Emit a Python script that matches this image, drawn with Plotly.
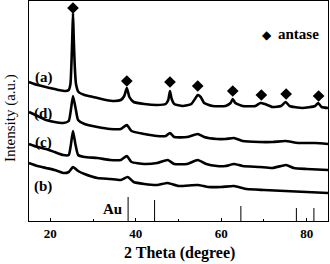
import plotly.graph_objects as go

# 2-theta (degree) and intensity (a.u.) for each sample
theta_a = [15, 17, 20, 22, 23.5, 24.3, 24.7, 24.95, 25.15, 25.3, 25.45, 25.7, 26.0, 26.6, 28, 30, 33, 35, 36.5,
           37.3, 37.9, 38.5, 39.5, 42, 45, 47, 47.6, 48.0, 48.4, 49, 51, 53, 54, 54.5, 55.2, 56, 58, 61, 62.2,
           62.7, 63.3, 65, 68, 69.2, 70.2, 72, 74, 75.1, 76, 79, 82, 82.7, 83.5, 85]
inten_a = [139, 136, 133, 131, 130, 131, 137, 159, 186, 208, 186, 156, 137, 129, 126, 124, 121, 120, 121,
           125, 133, 124, 119, 117, 116, 117, 121, 130, 122, 117, 115, 117, 123, 126, 124, 118, 115, 115, 118,
           122, 118, 115, 115, 118, 117, 114, 115, 119, 115, 113, 115, 118, 114, 113]

theta_d = [15, 17, 19, 21, 23, 24.3, 24.8, 25.3, 25.9, 26.5, 28, 31, 34, 36.5, 37.9, 39, 42, 45, 47, 48, 49,
           52, 54.5, 56, 59, 61, 63, 65, 69, 72, 75, 78, 82, 85]
inten_d = [109, 105, 101, 99, 98, 100, 111, 125, 113, 101, 97, 94, 92, 92, 96, 90, 87, 85, 85, 88, 84,
           84, 87, 84, 82, 82, 83, 80, 79, 79, 80, 78, 78, 77]

theta_c = [15, 17, 19, 21, 23, 24.3, 24.8, 25.3, 25.9, 26.5, 28, 31, 34, 36.5, 37.9, 39, 42, 45, 47.5, 49,
           52, 54.5, 56.5, 59, 61, 63, 65, 69, 72, 75.2, 77, 80, 85]
inten_c = [77, 74, 72, 69, 66, 66, 76, 90, 76, 66, 64, 63, 61, 61, 65, 59, 57, 58, 61, 57,
           57, 61, 57, 55, 55, 57, 55, 54, 53, 56, 53, 52, 51]

theta_b = [15, 17, 19, 21, 23, 24.3, 25.3, 26.5, 28, 31, 34, 36.5, 38.1, 39.5, 42, 45, 47.5, 50, 54.5, 57,
           60, 63, 66, 70, 75, 80, 85]
inten_b = [58, 55, 53, 51, 48, 49, 54, 50, 47, 43, 42, 41, 44, 39, 37, 36, 38, 35, 36, 34,
           34, 35, 32, 31, 30, 29, 28]

# anatase peak markers
anatase_theta = [25.3, 37.9, 48.0, 54.5, 62.7, 69.4, 75.2, 82.8]
anatase_mark = [213, 140, 139, 135, 130, 126, 127, 125]

# Au reference lines
au_theta = [38.2, 44.4, 64.6, 77.6, 81.7]
au_height = [24, 21, 15, 13, 13]

curve_labels = ["(a)", "(d)", "(c)", "(b)"]
label_theta = [18.5, 18.2, 18.5, 18.3]
label_inten = [144, 108, 79, 35]

FONT = "Liberation Serif"

fig = go.Figure()
for th, it in [(theta_a, inten_a), (theta_d, inten_d), (theta_c, inten_c), (theta_b, inten_b)]:
    fig.add_trace(go.Scatter(x=th, y=it, mode="lines",
                             line=dict(color="black", width=2.6, shape="spline", smoothing=0.5),
                             showlegend=False, hoverinfo="skip"))

au_x, au_y = [], []
for p, h in zip(au_theta, au_height):
    au_x += [p, p, None]
    au_y += [0, h, None]
fig.add_trace(go.Scatter(x=au_x, y=au_y, mode="lines", line=dict(color="black", width=1),
                         showlegend=False, hoverinfo="skip"))

fig.add_trace(go.Scatter(x=anatase_theta, y=anatase_mark, mode="markers", name="antase",
                         marker=dict(symbol="diamond", size=9, color="black"), showlegend=False))

for t, x, y in zip(curve_labels, label_theta, label_inten):
    fig.add_annotation(x=x, y=y, text="<b>" + t + "</b>", showarrow=False,
                       font=dict(family=FONT, size=15, color="black"))
fig.add_annotation(x=34.5, y=12, text="<b>Au</b>", showarrow=False,
                   font=dict(family=FONT, size=15, color="black"))

# legend-like key for the anatase markers
fig.add_annotation(xref="paper", yref="paper", x=0.795, y=0.845, text="◆", showarrow=False,
                   xanchor="center", yanchor="middle",
                   font=dict(family="DejaVu Sans", size=12, color="black"))
fig.add_annotation(xref="paper", yref="paper", x=0.826, y=0.85, text="<b>antase</b>", showarrow=False,
                   xanchor="left", yanchor="middle",
                   font=dict(family=FONT, size=15, color="black"))

fig.add_annotation(xref="paper", yref="paper", x=-0.062, y=0.47, text="Intensity (a.u.)",
                   textangle=-90, showarrow=False, xanchor="center", yanchor="middle",
                   font=dict(family=FONT, size=15, color="black"))
fig.add_annotation(xref="paper", yref="paper", x=0.505, y=-0.145, text="<b>2 Theta (degree)</b>",
                   showarrow=False, xanchor="center", yanchor="middle",
                   font=dict(family=FONT, size=16, color="black"))

fig.update_layout(
    width=330, height=264, autosize=False,
    margin=dict(l=29, r=2, t=1, b=43),
    paper_bgcolor="white", plot_bgcolor="white",
    showlegend=False,
    font=dict(family=FONT, color="black"),
    xaxis=dict(range=[15, 85], tickvals=[20, 40, 60, 80], ticktext=["<b>20</b>", "<b>40</b>", "<b>60</b>", "<b>80</b>"],
               ticks="inside", ticklen=3,
               minor=dict(tickvals=[30, 50, 70], ticks="inside", ticklen=2, tickcolor="black"),
               tickcolor="black", showline=True, linecolor="black", linewidth=1, mirror=True,
               showgrid=False, zeroline=False,
               tickfont=dict(family=FONT, size=13, color="black")),
    yaxis=dict(range=[0, 220], showticklabels=False, ticks="", showline=True, linecolor="black",
               linewidth=1, mirror=True, showgrid=False, zeroline=False),
)

fig.write_html("out.html", config={"displayModeBar": False},
               post_script="document.body.style.margin='0';document.body.style.padding='0';")
